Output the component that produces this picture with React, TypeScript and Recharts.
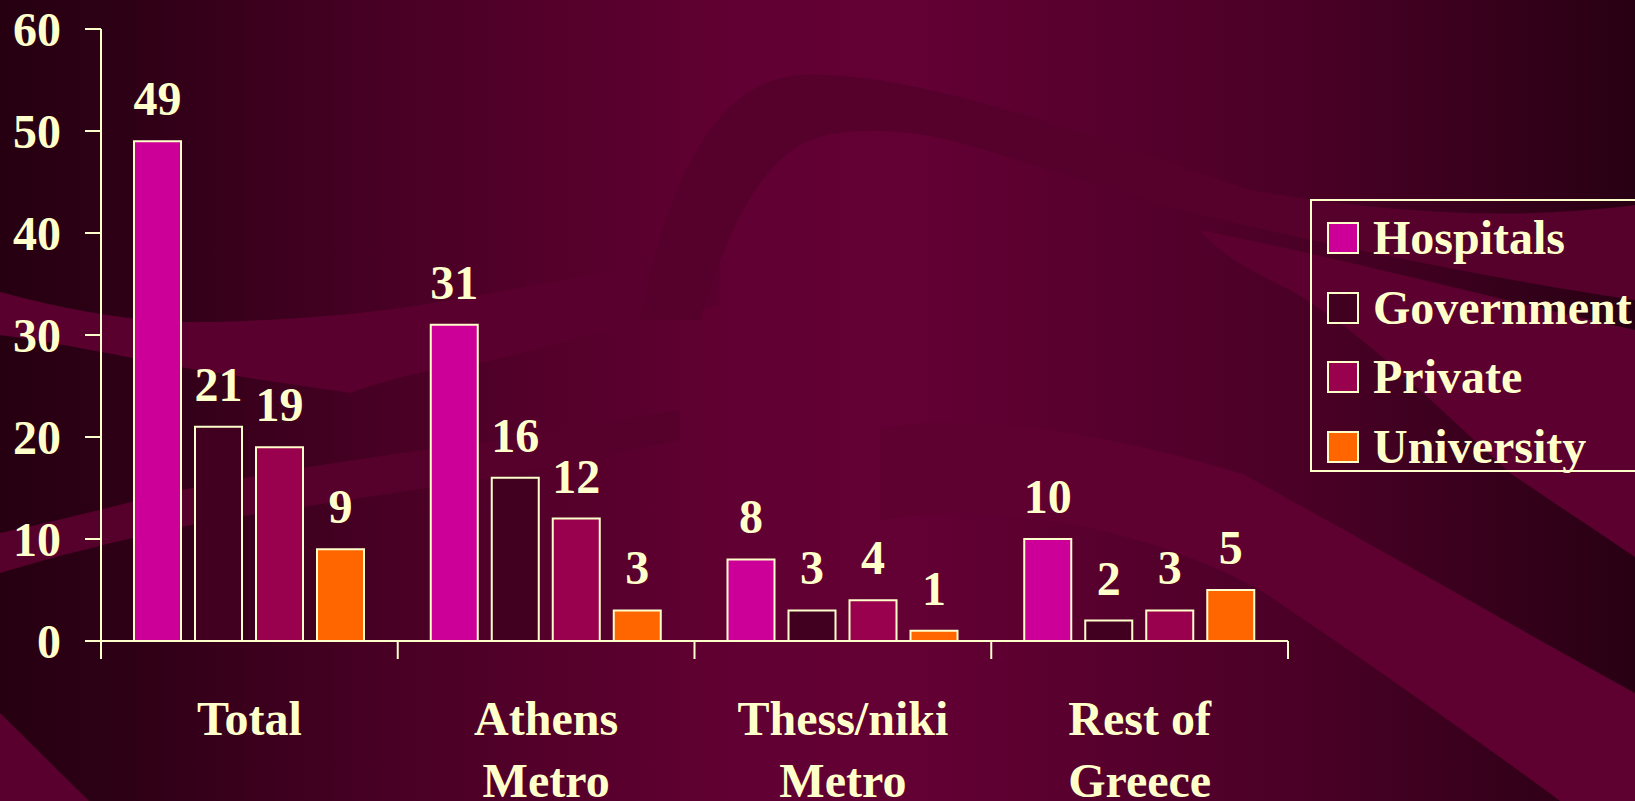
import React from "react";
import { BarChart, Bar, XAxis, YAxis, Legend, LabelList } from "recharts";

const categories = ["Total", "Athens Metro", "Thess/niki Metro", "Rest of Greece"];
const categoryLines = [["Total"], ["Athens", "Metro"], ["Thess/niki", "Metro"], ["Rest of", "Greece"]];
const hospitals = [49, 31, 8, 10];
const government = [21, 16, 3, 2];
const privateSector = [19, 12, 4, 3];
const university = [9, 3, 1, 5];
const yTicks = [0, 10, 20, 30, 40, 50, 60];
const seriesNames = ["Hospitals", "Government", "Private", "University"];

const data = categories.map((name, i) => ({
  name,
  hospitals: hospitals[i],
  government: government[i],
  private: privateSector[i],
  university: university[i],
}));

const CREAM = "#FFFFCC";
const FONT = "'Liberation Serif', 'Times New Roman', serif";
const textStyle = { fill: CREAM, fontFamily: FONT, fontWeight: 700, fontSize: 48 };

const CategoryTick = (props: any) => {
  const { x, y, payload, index, visibleTicksCount, width } = props;
  const idx = categories.indexOf(payload.value);
  const lines = idx >= 0 ? categoryLines[idx] : [String(payload.value)];
  const half =
    typeof payload.offset === "number" && payload.offset > 0
      ? payload.offset
      : width / (visibleTicksCount || categories.length) / 2;
  const isLast = index === (visibleTicksCount || categories.length) - 1;
  return (
    <g>
      <line x1={x - half} x2={x - half} y1={y} y2={y + 18} stroke={CREAM} strokeWidth={2} />
      {isLast && <line x1={x + half} x2={x + half} y1={y} y2={y + 18} stroke={CREAM} strokeWidth={2} />}
      {lines.map((l: string, i: number) => (
        <text key={i} x={x} y={y + 94 + i * 62} textAnchor="middle" {...textStyle}>
          {l}
        </text>
      ))}
    </g>
  );
};

const renderLegend = (props: any) => {
  const payload = [...(props.payload || [])].sort(
    (a: any, b: any) => seriesNames.indexOf(a.value) - seriesNames.indexOf(b.value)
  );
  return (
    <div
      style={{
        position: "absolute",
        left: 0,
        top: 0,
        width: 400,
        height: 273,
        boxSizing: "border-box",
        border: `2px solid ${CREAM}`,
      }}
    >
      {payload.map((entry: any, i: number) => (
        <div
          key={i}
          style={{
            position: "absolute",
            left: 15,
            top: 37 + i * 69.5 - 30,
            height: 60,
            display: "flex",
            alignItems: "center",
            whiteSpace: "nowrap",
          }}
        >
          <div
            style={{
              width: 32,
              height: 32,
              boxSizing: "border-box",
              border: `2px solid ${CREAM}`,
              background: entry.color,
              marginRight: 14,
            }}
          />
          <span style={{ color: CREAM, fontFamily: FONT, fontWeight: 700, fontSize: 48, lineHeight: "60px" }}>
            {entry.value}
          </span>
        </div>
      ))}
    </div>
  );
};

const Background = () => (
  <svg width={1635} height={801} style={{ position: "absolute", left: 0, top: 0 }}>
    <defs>
      <linearGradient id="bg" x1="0" y1="0" x2="1" y2="0">
        <stop offset="0" stopColor="#260011" />
        <stop offset="0.08" stopColor="#2e0016" />
        <stop offset="0.25" stopColor="#4a0025" />
        <stop offset="0.45" stopColor="#610032" />
        <stop offset="0.56" stopColor="#630034" />
        <stop offset="0.8" stopColor="#4a0026" />
        <stop offset="1" stopColor="#280013" />
      </linearGradient>
    </defs>
    <rect x={0} y={0} width={1635} height={801} fill="url(#bg)" />
    <path
      d="M0,292 C60,308 120,320 180,322 C230,323 330,318 400,308 C480,297 600,272 720,252 L720,305 C600,330 520,355 480,363 C440,368 400,375 350,393 C300,385 200,372 133,358 C80,348 40,340 0,335 Z"
      fill="#5a002e"
    />
    <path
      d="M0,533 C60,520 120,505 167,493 C280,470 380,455 480,443 C560,432 620,420 680,410 L680,440 C600,455 540,470 480,480 C380,495 280,510 200,523 C120,540 60,555 0,573 Z"
      fill="#56002c"
    />
    <path
      d="M640,320 C670,170 720,80 800,75 C900,70 1050,120 1250,190 C1400,215 1520,220 1635,205 L1635,300 C1500,280 1350,250 1200,215 C1100,190 1000,150 930,136 C880,128 830,128 800,145 C760,170 730,220 700,320 Z"
      fill="#56002c"
    />
    <path d="M1200,230 C1350,260 1500,300 1635,330 L1635,557 C1580,520 1520,480 1510,473 C1430,400 1360,330 1290,290 C1250,270 1220,255 1200,230 Z" fill="#5c002f" />
    <path d="M880,430 C950,410 1100,430 1243,474 C1400,560 1520,630 1635,693 L1635,801 L1560,801 C1450,720 1350,650 1260,590 C1150,530 1000,500 880,520 Z" fill="#5e0030" />
    <path d="M0,713 L89,801 L0,801 Z" fill="#5a002e" />
  </svg>
);

export default function App() {
  return (
    <div style={{ position: "absolute", left: 0, top: 0, width: 1635, height: 801, overflow: "hidden" }}>
      <Background />
      <div style={{ position: "absolute", left: 0, top: 0 }}>
        <BarChart
          width={1635}
          height={801}
          data={data}
          margin={{ top: 29, right: 347, bottom: 0, left: 0 }}
          barCategoryGap={33}
          barGap={14}
        >
          <XAxis
            dataKey="name"
            height={160}
            interval={0}
            tickLine={false}
            axisLine={{ stroke: CREAM, strokeWidth: 2 }}
            tickSize={0}
            tickMargin={0}
            tick={<CategoryTick />}
          />
          <YAxis
            width={101}
            domain={[0, 60]}
            ticks={yTicks}
            interval={0}
            tickSize={16}
            tickMargin={24}
            tick={textStyle}
            tickLine={{ stroke: CREAM, strokeWidth: 2 }}
            axisLine={{ stroke: CREAM, strokeWidth: 2 }}
          />
          <Legend content={renderLegend} wrapperStyle={{ left: 1310, top: 199, width: 0, height: 0 }} />
          <Bar dataKey="hospitals" name={seriesNames[0]} fill="#CC0099" stroke={CREAM} strokeWidth={2} isAnimationActive={false}>
            <LabelList dataKey="hospitals" position="top" offset={26} {...textStyle} />
          </Bar>
          <Bar dataKey="government" name={seriesNames[1]} fill="#420021" stroke={CREAM} strokeWidth={2} isAnimationActive={false}>
            <LabelList dataKey="government" position="top" offset={26} {...textStyle} />
          </Bar>
          <Bar dataKey="private" name={seriesNames[2]} fill="#99004D" stroke={CREAM} strokeWidth={2} isAnimationActive={false}>
            <LabelList dataKey="private" position="top" offset={26} {...textStyle} />
          </Bar>
          <Bar dataKey="university" name={seriesNames[3]} fill="#FF6600" stroke={CREAM} strokeWidth={2} isAnimationActive={false}>
            <LabelList dataKey="university" position="top" offset={26} {...textStyle} />
          </Bar>
        </BarChart>
      </div>
    </div>
  );
}
